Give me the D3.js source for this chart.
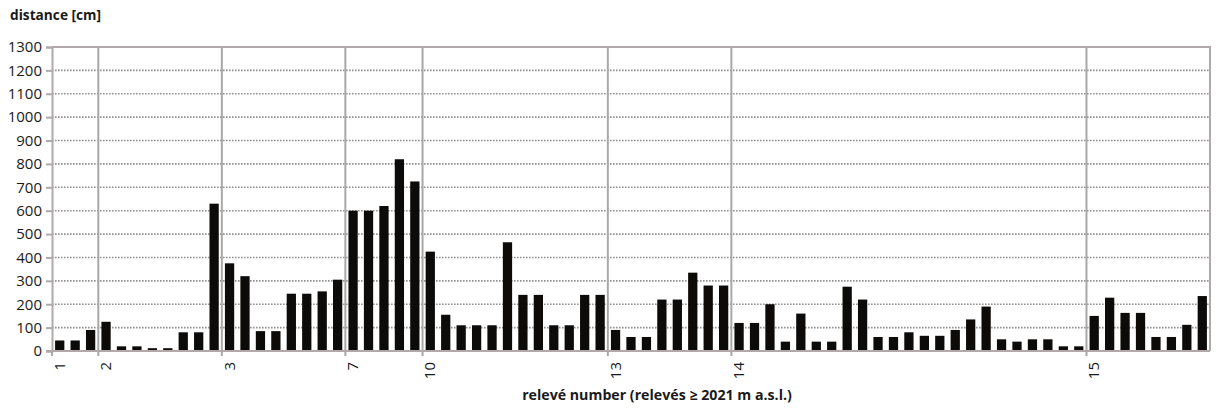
<!DOCTYPE html>
<html>
<head>
<meta charset="utf-8">
<script src="https://cdn.jsdelivr.net/npm/d3@7"></script>
<style>
  body { margin: 0; background: #fff; }
  text { font-family: "Open Sans", sans-serif; fill: #1a1a1a; }
</style>
</head>
<body>
<svg id="chart"></svg>
<script>
// one bar per relevé position, left to right
const distance = [
  45, 45, 90, 125, 20, 20, 12, 12, 80, 80,
  630, 375, 320, 85, 85, 245, 245, 255, 305, 600,
  600, 620, 820, 725, 425, 155, 110, 110, 110, 465,
  240, 240, 110, 110, 240, 240, 90, 60, 60, 220,
  220, 335, 280, 280, 120, 120, 200, 40, 160, 40,
  40, 275, 220, 60, 60, 80, 65, 65, 90, 135,
  190, 50, 40, 50, 50, 20, 20, 150, 228, 163,
  163, 60, 60, 112, 235
];

// index of first bar of each relevé group and its label
const groupStart = [0, 3, 11, 19, 24, 36, 44, 67];
const groupLabel = ["1", "2", "3", "7", "10", "13", "14", "15"];

const yTicks = d3.range(0, 1301, 100);

let width = 1216, height = 409;
let margin = {top: 47, right: 6, bottom: 58, left: 52};
let w = width - margin.left - margin.right;
let h = height - margin.top - margin.bottom;

let svg = d3.select("#chart")
    .attr("width", width)
    .attr("height", height);

let g = svg.append("g")
    .attr("transform", "translate(" + margin.left + "," + margin.top + ")");

let x = d3.scaleBand()
    .domain(d3.range(distance.length))
    .range([0, w])
    .paddingInner(0.4)
    .paddingOuter(0.2);

let y = d3.scaleLinear().domain([0, 1300]).range([h, 0]);

// dotted horizontal grid
g.selectAll(".grid")
  .data(yTicks.filter(d => d > 0 && d < 1300))
  .enter().append("line")
    .attr("class", "grid")
    .attr("x1", 0).attr("x2", w)
    .attr("y1", d => y(d)).attr("y2", d => y(d))
    .attr("stroke", "#929292")
    .attr("stroke-width", 1.6)
    .attr("stroke-dasharray", "1.6,1.4");

// group separators
let step = x.step();
g.selectAll(".sep")
  .data(groupStart.filter(d => d > 0))
  .enter().append("line")
    .attr("class", "sep")
    .attr("x1", d => d * step).attr("x2", d => d * step)
    .attr("y1", 0).attr("y2", h + 5)
    .attr("stroke", "#a8a8a8")
    .attr("stroke-width", 2);

// top and right border
g.append("path")
    .attr("d", "M0," + y(1300) + "H" + w + "V" + h)
    .attr("fill", "none")
    .attr("stroke", "#b1a9a9")
    .attr("stroke-width", 2);

// bars
g.selectAll(".bar")
  .data(distance)
  .enter().append("rect")
    .attr("class", "bar")
    .attr("x", (d, i) => x(i))
    .attr("width", x.bandwidth())
    .attr("y", d => y(d))
    .attr("height", d => h - y(d))
    .attr("fill", "#0c0b0a");

// y axis
let yAxis = g.append("g")
    .call(d3.axisLeft(y).tickValues(yTicks).tickFormat(d3.format("d")).tickSize(6).tickPadding(4));
yAxis.select(".domain").attr("stroke", "#b1a9a9").attr("stroke-width", 2);
yAxis.selectAll(".tick line").attr("stroke", "#b1a9a9").attr("stroke-width", 2);
yAxis.selectAll(".tick text")
    .style("font-size", "15px")
    .attr("fill", "#1a1a1a");

// x axis baseline
g.append("line")
    .attr("x1", -6).attr("x2", w)
    .attr("y1", h).attr("y2", h)
    .attr("stroke", "#b1a9a9")
    .attr("stroke-width", 2);
g.append("line")
    .attr("x1", 0).attr("x2", 0)
    .attr("y1", h).attr("y2", h + 5)
    .attr("stroke", "#b1a9a9")
    .attr("stroke-width", 2);

// rotated group labels
g.selectAll(".glabel")
  .data(groupStart)
  .enter().append("text")
    .attr("class", "glabel")
    .attr("transform", (d, i) => "translate(" + (x(d) + x.bandwidth() / 2 + 5) + "," + (h + 11) + ") rotate(-90)")
    .style("text-anchor", "end")
    .style("font-size", "15px")
    .text((d, i) => groupLabel[i]);

// axis titles
svg.append("text")
    .attr("x", 10).attr("y", 20)
    .style("font-size", "13.7px")
    .style("font-weight", "bold")
    .text("distance [cm]");

svg.append("text")
    .attr("x", 657).attr("y", 400)
    .style("text-anchor", "middle")
    .style("font-size", "14.2px")
    .style("font-weight", "bold")
    .text("relevé number (relevés ≥ 2021 m a.s.l.)");
</script>
</body>
</html>
